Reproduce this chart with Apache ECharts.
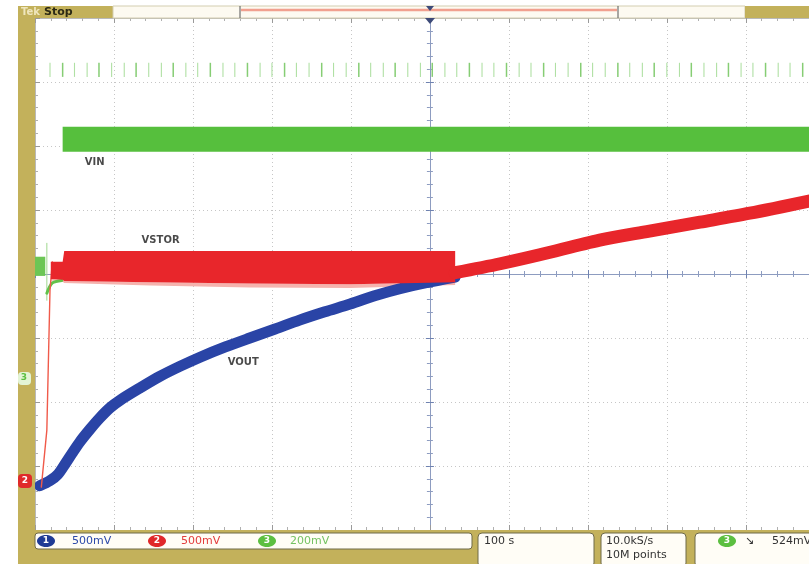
<!DOCTYPE html>
<html>
<head>
<meta charset="utf-8">
<script src="https://cdn.jsdelivr.net/npm/echarts@6/dist/echarts.min.js"></script>
<style>
  html, body { margin: 0; padding: 0; background: #ffffff; }
  #chart { width: 809px; height: 564px; }
</style>
</head>
<body>
<div id="chart"></div>
<script>
// Scope capture: time in seconds relative to the trigger (100 s/div),
// levels in screen divisions from the centre line (8 divisions tall).

// Channel 1 — VOUT (blue), charging curve
const voutT = [-494, -481, -471, -462, -453, -443, -430, -418, -405, -392, -367, -342, -316,
               -291, -259, -228, -196, -165, -133, -101, -70, -38, -6, 32];
const voutY = [-3.31, -3.23, -3.13, -2.97, -2.80, -2.62, -2.42, -2.25, -2.09, -1.97, -1.78, -1.60, -1.44,
               -1.30, -1.14, -1.00, -0.86, -0.72, -0.59, -0.47, -0.34, -0.23, -0.14, -0.05];

// Channel 2 — VSTOR (red): initial rise, regulated ripple band, then tracking VOUT
const vstorRiseT = [-492, -485, -481, -478];
const vstorRiseY = [-3.33, -2.44, -0.25, 0.19];
const vstorBandT  = [-480, -465, -463, -354, -228, -101, 32];
const vstorBandHi = [0.19, 0.19, 0.36, 0.36, 0.36, 0.36, 0.36];
const vstorBandLo = [-0.08, -0.09, -0.11, -0.13, -0.15, -0.16, -0.13];
const vstorFringeLo = [-0.10, -0.12, -0.14, -0.18, -0.21, -0.22, -0.17];
const vstorT = [32, 89, 139, 215, 278, 342, 405, 480];
const vstorY = [0.02, 0.16, 0.30, 0.53, 0.67, 0.81, 0.95, 1.14];

// Channel 3 — VIN (green): pre-start level, switching band and periodic spikes
const vinPreT  = [-500, -487];
const vinPreHi = [0.27, 0.27];
const vinPreLo = [-0.03, -0.03];
const vinHookT = [-485, -478, -466];
const vinHookY = [-0.30, -0.14, -0.10];
const vinEdgeT = [-485, -485];
const vinEdgeY = [0.48, -0.41];
const vinBandT  = [-465, 480];
const vinBandHi = [2.30, 2.30];
const vinBandLo = [1.91, 1.91];
const vinSpikeT = [-481, -465, -450, -434, -419, -403, -387, -372, -356, -340, -325, -309,
                   -294, -278, -262, -247, -231, -215, -200, -184, -169, -153, -137, -122,
                   -106, -90, -75, -59, -44, -28, -12, 3, 19, 34, 50, 66, 81, 97, 113, 128,
                   144, 159, 175, 191, 206, 222, 238, 253, 269, 284, 300, 316, 331, 347, 363,
                   378, 394, 409, 425, 441, 456, 472];
const vinSpikeLo = 3.08;
const vinSpikeHi = 3.30;

// Trace names written on the screen
const traceNames  = ['VIN', 'VSTOR', 'VOUT'];
const traceNameT  = [-437, -365, -256];
const traceNameY  = [1.75, 0.53, -1.375];

// Readouts
const chScales = ['500mV', '500mV', '200mV'];
const timeBase = '100 s';
const sampleRate = '10.0kS/s';
const recordLen = '10M points';
const trigLevel = '524mV';

const KHAKI = '#c3b15b';
const BLUE = '#2a44a6';
const RED = '#e8262b';
const GREEN = '#56bf3d';
const FONT = 'DejaVu Sans';

const pairs = (xs, ys) => xs.map((x, i) => [x, ys[i]]);

function band(name, ts, lo, hi, color, z) {
  return {
    type: 'custom', name, z, silent: true,
    data: ts.map((t, i) => [t, lo[i], hi[i]]),
    encode: { x: 0, y: [1, 2] },
    renderItem(params, api) {
      if (params.dataIndex !== 0) return null;
      const top = ts.map((t, i) => api.coord([t, hi[i]]));
      const bot = ts.map((t, i) => api.coord([t, lo[i]])).reverse();
      return { type: 'polygon', shape: { points: top.concat(bot) }, style: { fill: color } };
    }
  };
}

function trace(name, xs, ys, color, width, z, smooth) {
  return {
    type: 'line', name, z, silent: true, showSymbol: false,
    smooth: smooth || 0,
    data: pairs(xs, ys),
    lineStyle: { color, width, cap: 'round', join: 'round' }
  };
}

// Visible screen: 10 divisions less the part cut off at the right edge
const gridRect = { left: 35, top: 18, right: 0, height: 512 };
const hidden = { show: false };

function xAx(gridIndex, extra) {
  return Object.assign({
    gridIndex, type: 'value', min: -500, max: 480, interval: 100,
    axisLabel: hidden, splitLine: hidden
  }, extra);
}
function yAx(gridIndex, extra) {
  return Object.assign({
    gridIndex, type: 'value', min: -4, max: 4, interval: 1,
    axisLabel: hidden, splitLine: hidden
  }, extra);
}

const crossLine = { show: true, onZero: true, lineStyle: { color: '#8d9cc0', width: 1 } };
const crossTick = { show: true, length: 4, lineStyle: { color: '#6f82b0' } };
const crossMinor = { show: true, splitNumber: 5, length: 3, lineStyle: { color: '#8d9cc0' } };
const frameLine = { show: true, onZero: false, lineStyle: { color: '#b9b9b9', width: 1 } };
const frameTick = { show: true, inside: true, length: 5, lineStyle: { color: '#9a9a9a' } };
const frameMinor = { show: true, splitNumber: 5, length: 3, lineStyle: { color: '#b0b0b0' } };
const dotted = { show: true, lineStyle: { color: '#c6c6c6', type: [1, 3], width: 1 } };

const option = {
  animation: false,
  backgroundColor: '#ffffff',
  grid: [
    Object.assign({}, gridRect),
    Object.assign({}, gridRect),
    Object.assign({}, gridRect),
    Object.assign({}, gridRect)
  ],
  xAxis: [
    xAx(0, { axisLine: crossLine, axisTick: crossTick, minorTick: crossMinor, splitLine: dotted }),
    xAx(1, { axisLine: { show: false, onZero: true }, axisTick: Object.assign({}, crossTick, { inside: true }), minorTick: crossMinor }),
    xAx(2, { position: 'top', axisLine: frameLine, axisTick: frameTick, minorTick: frameMinor }),
    xAx(3, { position: 'bottom', axisLine: frameLine, axisTick: frameTick, minorTick: frameMinor })
  ],
  yAxis: [
    yAx(0, { axisLine: crossLine, axisTick: crossTick, minorTick: crossMinor, splitLine: dotted }),
    yAx(1, { axisLine: { show: false, onZero: true }, axisTick: Object.assign({}, crossTick, { inside: true }), minorTick: crossMinor }),
    yAx(2, { position: 'left', axisLine: frameLine, axisTick: frameTick, minorTick: frameMinor }),
    yAx(3, { position: 'left', axisLine: { show: false }, axisTick: hidden })
  ],
  series: [
    // VIN spikes
    {
      type: 'custom', name: 'VIN spikes', z: 3, silent: true,
      data: vinSpikeT.map(t => [t, vinSpikeLo, vinSpikeHi]),
      encode: { x: 0, y: [1, 2] },
      renderItem(params, api) {
        const a = api.coord([api.value(0), api.value(1)]);
        const b = api.coord([api.value(0), api.value(2)]);
        const strong = params.dataIndex % 3 === 1;
        return {
          type: 'line',
          shape: { x1: a[0], y1: a[1], x2: b[0], y2: b[1] },
          style: { stroke: strong ? '#86cd74' : '#b0e0a4', lineWidth: strong ? 1.5 : 1.1 }
        };
      }
    },
    band('VIN', vinBandT, vinBandLo, vinBandHi, GREEN, 4),
    band('VIN pre', vinPreT, vinPreLo, vinPreHi, '#6cc655', 4),
    trace('VIN edge', vinEdgeT, vinEdgeY, '#9fd88f', 1, 4),
    trace('VIN hook', vinHookT, vinHookY, '#62c24a', 3, 4, 0.3),
    band('VSTOR fringe', vstorBandT, vstorFringeLo, vstorBandLo, '#f5b3ae', 4),
    trace('VOUT', voutT, voutY, BLUE, 11, 5, 0.3),
    band('VSTOR', vstorBandT, vstorBandLo, vstorBandHi, RED, 7),
    trace('VSTOR rise', vstorRiseT, vstorRiseY, '#f05a4a', 1.4, 6),
    trace('VSTOR track', vstorT, vstorY, RED, 13, 7, 0.3),
    {
      type: 'scatter', name: 'names', z: 8, silent: true, symbolSize: 0,
      data: traceNames.map((n, i) => ({ name: n, value: [traceNameT[i], traceNameY[i]] })),
      label: {
        show: true, formatter: '{b}', position: 'right', distance: 0,
        color: '#1c1c1c', fontSize: 10, fontWeight: 'bold', fontFamily: FONT
      }
    }
  ],
  graphic: [
    // frame: left strip, top bar, bottom bar
    { type: 'rect', z: 100, shape: { x: 18, y: 6, width: 17, height: 558 }, style: { fill: KHAKI } },
    { type: 'rect', z: 100, shape: { x: 18, y: 6, width: 95, height: 12 }, style: { fill: KHAKI } },
    { type: 'rect', z: 100, shape: { x: 113, y: 6, width: 632, height: 12 }, style: { fill: '#fdfaf1', stroke: '#d3cdb0', lineWidth: 1 } },
    { type: 'line', z: 101, shape: { x1: 241, y1: 10, x2: 617, y2: 10 }, style: { stroke: '#f1a08f', lineWidth: 2.5 } },
    { type: 'line', z: 101, shape: { x1: 240, y1: 6, x2: 240, y2: 18 }, style: { stroke: '#555', lineWidth: 1 } },
    { type: 'line', z: 101, shape: { x1: 618, y1: 6, x2: 618, y2: 18 }, style: { stroke: '#555', lineWidth: 1 } },
    { type: 'polygon', z: 101, shape: { points: [[426, 6], [434, 6], [430, 11]] }, style: { fill: '#3d4a78' } },
    { type: 'polygon', z: 101, shape: { points: [[425, 18], [435, 18], [430, 24]] }, style: { fill: '#3d4a78' } },
    { type: 'rect', z: 100, shape: { x: 745, y: 6, width: 64, height: 12 }, style: { fill: KHAKI } },
    { type: 'text', z: 102, x: 21, y: 12, style: { text: 'Tek', fill: '#efe6bd', font: 'bold 10px ' + FONT, verticalAlign: 'middle' } },
    { type: 'text', z: 102, x: 44, y: 12, style: { text: 'Stop', fill: '#2b2914', font: 'bold 11px ' + FONT, verticalAlign: 'middle' } },

    { type: 'rect', z: 100, shape: { x: 18, y: 530, width: 791, height: 34 }, style: { fill: KHAKI } },
    { type: 'rect', z: 101, shape: { x: 35, y: 533, width: 437, height: 16, r: 3 }, style: { fill: '#fffdf6', stroke: '#6f6a48', lineWidth: 1 } },
    { type: 'rect', z: 101, shape: { x: 478, y: 533, width: 116, height: 34, r: 4 }, style: { fill: '#fffdf6', stroke: '#6f6a48', lineWidth: 1 } },
    { type: 'rect', z: 101, shape: { x: 601, y: 533, width: 85, height: 34, r: 4 }, style: { fill: '#fffdf6', stroke: '#6f6a48', lineWidth: 1 } },
    { type: 'rect', z: 101, shape: { x: 695, y: 533, width: 130, height: 34, r: 4 }, style: { fill: '#fffdf6', stroke: '#6f6a48', lineWidth: 1 } },

    { type: 'ellipse', z: 102, shape: { cx: 46, cy: 541, rx: 9, ry: 6 }, style: { fill: '#1f3b95' } },
    { type: 'text', z: 103, x: 46, y: 541, style: { text: '1', fill: '#ffffff', font: 'bold 9px ' + FONT, align: 'center', verticalAlign: 'middle' } },
    { type: 'text', z: 102, x: 72, y: 541, style: { text: chScales[0], fill: '#2b48aa', font: '11px ' + FONT, verticalAlign: 'middle' } },
    { type: 'ellipse', z: 102, shape: { cx: 157, cy: 541, rx: 9, ry: 6 }, style: { fill: '#e0282a' } },
    { type: 'text', z: 103, x: 157, y: 541, style: { text: '2', fill: '#ffffff', font: 'bold 9px ' + FONT, align: 'center', verticalAlign: 'middle' } },
    { type: 'text', z: 102, x: 181, y: 541, style: { text: chScales[1], fill: '#e33c3c', font: '11px ' + FONT, verticalAlign: 'middle' } },
    { type: 'ellipse', z: 102, shape: { cx: 267, cy: 541, rx: 9, ry: 6 }, style: { fill: '#5cbf40' } },
    { type: 'text', z: 103, x: 267, y: 541, style: { text: '3', fill: '#ffffff', font: 'bold 9px ' + FONT, align: 'center', verticalAlign: 'middle' } },
    { type: 'text', z: 102, x: 290, y: 541, style: { text: chScales[2], fill: '#74c262', font: '11px ' + FONT, verticalAlign: 'middle' } },

    { type: 'text', z: 102, x: 484, y: 541, style: { text: timeBase, fill: '#333333', font: '11px ' + FONT, verticalAlign: 'middle' } },
    { type: 'text', z: 102, x: 606, y: 541, style: { text: sampleRate, fill: '#333333', font: '11px ' + FONT, verticalAlign: 'middle' } },
    { type: 'text', z: 102, x: 606, y: 555, style: { text: recordLen, fill: '#333333', font: '11px ' + FONT, verticalAlign: 'middle' } },
    { type: 'ellipse', z: 102, shape: { cx: 727, cy: 541, rx: 9, ry: 6 }, style: { fill: '#5cbf40' } },
    { type: 'text', z: 103, x: 727, y: 541, style: { text: '3', fill: '#ffffff', font: 'bold 9px ' + FONT, align: 'center', verticalAlign: 'middle' } },
    { type: 'text', z: 102, x: 745, y: 541, style: { text: '\u2198', fill: '#333333', font: '11px ' + FONT, verticalAlign: 'middle' } },
    { type: 'text', z: 102, x: 772, y: 541, style: { text: trigLevel, fill: '#333333', font: '11px ' + FONT, verticalAlign: 'middle' } },

    // ground-level markers on the left edge
    { type: 'rect', z: 102, shape: { x: 18, y: 372, width: 13, height: 13, r: 4 }, style: { fill: '#e3f4d6' } },
    { type: 'text', z: 103, x: 24, y: 378, style: { text: '3', fill: '#5cbf40', font: 'bold 9px ' + FONT, align: 'center', verticalAlign: 'middle' } },
    { type: 'rect', z: 102, shape: { x: 18, y: 474, width: 14, height: 14, r: 4 }, style: { fill: '#e02a2a' } },
    { type: 'text', z: 103, x: 25, y: 481, style: { text: '2', fill: '#ffffff', font: 'bold 9px ' + FONT, align: 'center', verticalAlign: 'middle' } }
  ]
};

const chart = echarts.init(document.getElementById('chart'), null, { renderer: 'canvas' });
chart.setOption(option);
</script>
</body>
</html>
